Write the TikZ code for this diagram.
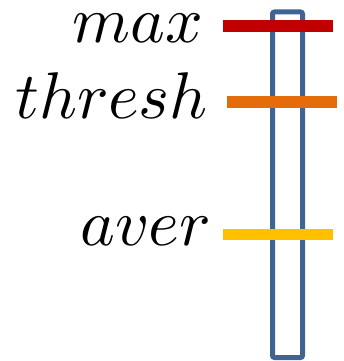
\documentclass[tikz,border=0pt]{standalone}
\usepackage{unicode-math}
\setmathfont{Latin Modern Math}
\definecolor{barblue}{HTML}{3F6494}
\definecolor{maxred}{HTML}{C00000}
\definecolor{threshorange}{HTML}{E46C0A}
\definecolor{averyellow}{HTML}{FFC000}
\tikzset{
  levellabel/.style={anchor=base east, inner sep=0pt, font=\fontsize{66}{70}\selectfont},
  levelbar/.style={line width=11.5pt},
  column/.style={draw=barblue, line width=5pt, rounded corners=2pt}
}
\begin{document}
\begin{tikzpicture}[x=1pt,y=-1pt]
  \useasboundingbox (0,0) rectangle (343,361);
  % the tall column
  \draw[column] (272.5,12) rectangle (302.5,357.5);
  % labels
  \node[levellabel] (lmax) at (203,43) {$max$};
  \node[levellabel] (lthresh) at (208,118) {$thresh$};
  \node[levellabel] (laver) at (210,245) {$aver$};
  % level marks
  \coordinate (maxL) at (223,26);   \coordinate (maxR) at (333,26);
  \coordinate (thrL) at (227,102);  \coordinate (thrR) at (337,102);
  \coordinate (avL) at (223,234.5); \coordinate (avR) at (333,234.5);
  \draw[levelbar, maxred] (maxL) -- (maxR);
  \draw[levelbar, threshorange] (thrL) -- (thrR);
  \draw[levelbar, averyellow] (avL) -- (avR);
\end{tikzpicture}
\end{document}
